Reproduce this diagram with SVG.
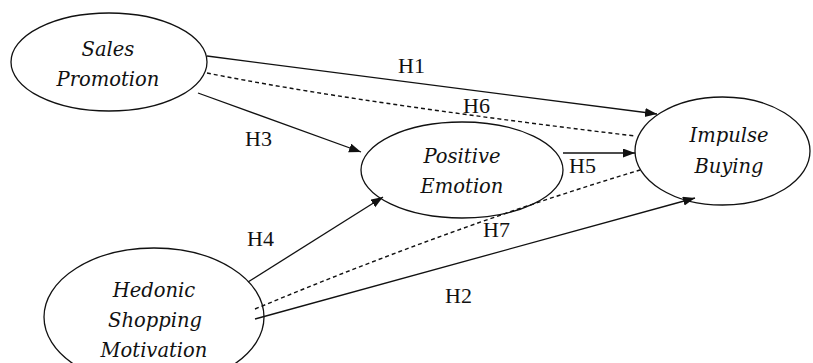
<svg xmlns="http://www.w3.org/2000/svg" width="813" height="363" viewBox="0 0 813 363">
  <defs>
    <marker id="arrow" markerUnits="userSpaceOnUse" markerWidth="13" markerHeight="10" refX="12" refY="4.5" orient="auto">
      <path d="M0,0 L12,4.5 L0,9 z" fill="#111"/>
    </marker>
    <style>
      .node ellipse { fill: #fff; stroke: #111; stroke-width: 1.3; }
      .node text { font-family: "DejaVu Serif", "Liberation Serif", serif; font-style: italic; font-size: 19.5px; fill: #111; text-anchor: middle; }
      .edge { fill: none; stroke: #111; stroke-width: 1.3; }
      .solid { marker-end: url(#arrow); }
      .dashed { stroke-dasharray: 4 3; stroke-width: 1.4; }
      .label { font-family: "Liberation Serif", "Times New Roman", serif; font-size: 22px; fill: #111; }
    </style>
  </defs>
  <rect width="813" height="363" fill="#fff"/>

  <g id="nodes">
    <g id="sales-promotion" class="node">
      <ellipse cx="109" cy="62" rx="98" ry="49"/>
      <text x="108" y="56">Sales</text>
      <text x="108" y="86">Promotion</text>
    </g>
    <g id="positive-emotion" class="node">
      <ellipse cx="462" cy="170" rx="101" ry="48"/>
      <text x="462" y="163">Positive</text>
      <text x="462" y="193">Emotion</text>
    </g>
    <g id="impulse-buying" class="node">
      <ellipse cx="722.5" cy="151" rx="87.5" ry="54"/>
      <text x="729" y="142">Impulse</text>
      <text x="729" y="173">Buying</text>
    </g>
    <g id="hedonic-shopping-motivation" class="node">
      <ellipse cx="154" cy="317" rx="110" ry="69"/>
      <text x="154" y="297">Hedonic</text>
      <text x="155" y="327">Shopping</text>
      <text x="154" y="357">Motivation</text>
    </g>
  </g>

  <g id="connectors">
    <!-- H1: Sales Promotion -> Impulse Buying -->
    <line class="edge solid" x1="207" y1="56" x2="657" y2="114"/>
    <!-- H6: indirect path, dashed -->
    <path class="edge dashed" d="M207,73 Q352,102 635,136"/>
    <!-- H3: Sales Promotion -> Positive Emotion -->
    <line class="edge solid" x1="198" y1="93" x2="361" y2="152"/>
    <!-- H4: Hedonic Shopping Motivation -> Positive Emotion -->
    <line class="edge solid" x1="248" y1="282" x2="383" y2="197"/>
    <!-- H5: Positive Emotion -> Impulse Buying -->
    <line class="edge solid" x1="563" y1="153" x2="635" y2="153"/>
    <!-- H7: indirect path, dashed -->
    <path class="edge dashed" d="M255,309 Q451,227 640,170"/>
    <!-- H2: Hedonic Shopping Motivation -> Impulse Buying -->
    <line class="edge solid" x1="255" y1="319" x2="695" y2="198"/>
  </g>

  <g id="labels">
    <text class="label" x="398" y="73">H1</text>
    <text class="label" x="463" y="113">H6</text>
    <text class="label" x="245" y="146">H3</text>
    <text class="label" x="247" y="246">H4</text>
    <text class="label" x="445" y="303">H2</text>
    <text class="label" x="569" y="173">H5</text>
    <text class="label" x="483" y="237">H7</text>
  </g>
</svg>
